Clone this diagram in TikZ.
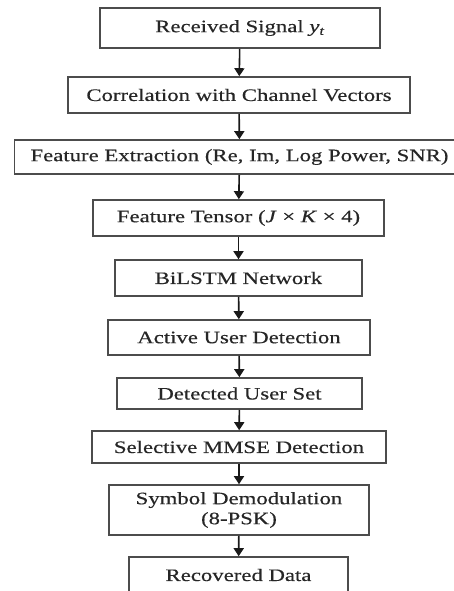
\documentclass[tikz,border=0pt]{standalone}
\usepackage{fontspec}
\setmainfont{Liberation Serif}[FakeStretch=1.3,FakeBold=0.35]
\usetikzlibrary{arrows.meta}
\tikzset{
  stagebox/.style={draw=black!70, line width=1.6bp, fill=white, text=black!85,
    inner sep=0pt, align=center,
    font=\fontsize{17.5bp}{20bp}\selectfont},
  flow/.style={draw=black!90, line width=1.6bp, -{Triangle[width=10bp,length=8bp]}}
}
\begin{document}
\begin{tikzpicture}[x=1bp,y=-1bp]
\useasboundingbox (0,0) rectangle (454,591);
\clip (0,0) rectangle (454,591);
\fill[white] (0,0) rectangle (454,591);
\node[stagebox, minimum width=280bp, minimum height=40bp] (n1) at (240,28) {Received Signal \textit{y}\textsubscript{\textit{t}}};
\node[stagebox, minimum width=342bp, minimum height=36bp] (n2) at (239,95) {Correlation with Channel Vectors};
\node[stagebox, minimum width=450bp, minimum height=34bp] (n3) at (239.5,157) {Feature Extraction (Re, Im, Log Power, SNR)};
\node[stagebox, minimum width=291bp, minimum height=36bp] (n4) at (238.5,218) {Feature Tensor (\textit{J} × \textit{K} × 4)};
\node[stagebox, minimum width=247bp, minimum height=36bp] (n5) at (238.5,278) {BiLSTM Network};
\node[stagebox, minimum width=262bp, minimum height=35bp] (n6) at (239,337.5) {Active User Detection};
\node[stagebox, minimum width=245bp, minimum height=31bp] (n7) at (239.5,393.5) {Detected User Set};
\node[stagebox, minimum width=294bp, minimum height=32bp] (n8) at (239,447) {Selective MMSE Detection};
\node[stagebox, minimum width=260bp, minimum height=50bp] (n9) at (239,510) {Symbol Demodulation\\(8-PSK)};
\node[stagebox, minimum width=219bp, minimum height=36bp] (n10) at (238.5,575) {Recovered Data};
\draw[flow] (n1) -- (n2);
\draw[flow] (n2) -- (n3);
\draw[flow] (n3) -- (n4);
\draw[flow] (n4) -- (n5);
\draw[flow] (n5) -- (n6);
\draw[flow] (n6) -- (n7);
\draw[flow] (n7) -- (n8);
\draw[flow] (n8) -- (n9);
\draw[flow] (n9) -- (n10);
\end{tikzpicture}
\end{document}
